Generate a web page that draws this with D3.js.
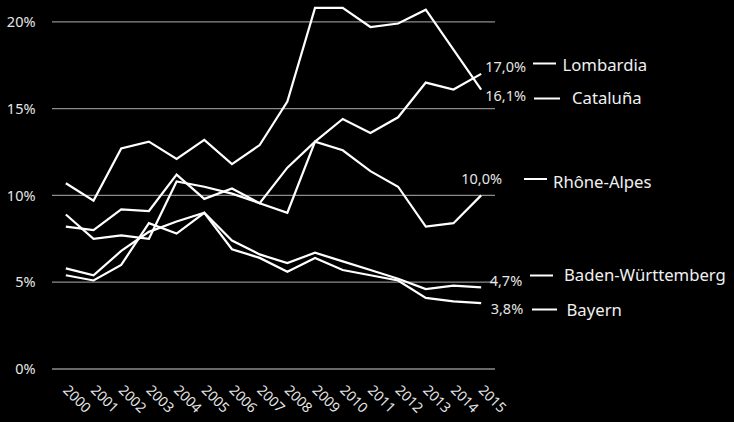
<!DOCTYPE html>
<html>
<head>
<meta charset="utf-8">
<script src="https://cdn.jsdelivr.net/npm/d3@7"></script>
<style>
  html, body { margin: 0; padding: 0; background: #000; }
  svg { display: block; }
</style>
</head>
<body>
<svg id="chart" width="734" height="422"></svg>
<script>
const years = ["2000","2001","2002","2003","2004","2005","2006","2007","2008","2009","2010","2011","2012","2013","2014","2015"];
const yTicks = [0, 5, 10, 15, 20];

const lombardia = [8.9, 7.5, 7.7, 7.5, 10.8, 10.5, 10.1, 9.55, 11.6, 13.1, 14.4, 13.6, 14.5, 16.5, 16.1, 17.0];
const cataluna  = [10.7, 9.7, 12.7, 13.1, 12.1, 13.2, 11.8, 12.9, 15.4, 20.8, 20.8, 19.7, 19.9, 20.7, 18.4, 16.1];
const rhoneAlpes = [8.2, 8.0, 9.2, 9.1, 11.2, 9.8, 10.4, 9.55, 9.0, 13.1, 12.6, 11.4, 10.5, 8.2, 8.4, 10.0];
const badenWurttemberg = [5.8, 5.4, 6.8, 7.9, 8.5, 9.0, 7.4, 6.6, 6.1, 6.7, 6.2, 5.7, 5.2, 4.6, 4.8, 4.7];
const bayern = [5.4, 5.1, 6.0, 8.4, 7.8, 9.0, 6.9, 6.4, 5.6, 6.4, 5.7, 5.4, 5.1, 4.1, 3.9, 3.8];

const seriesNames = ["Lombardia", "Cataluña", "Rhône-Alpes", "Baden-Württemberg", "Bayern"];
const seriesValues = [lombardia, cataluna, rhoneAlpes, badenWurttemberg, bayern];

// label layout (offsets only, not data)
const labelLayout = [
  { vdx: 4,   vdy: -1.5, dashX1: 533, dashX2: 556, dashY: 63.5, nameX: 562.5, nameY: 71 },
  { vdx: 4,   vdy: 11,   dashX1: 534, dashX2: 560, dashY: 98.5, nameX: 572,   nameY: 104 },
  { vdx: -20, vdy: -11.5,dashX1: 524, dashX2: 547, dashY: 179,  nameX: 553,   nameY: 187.5 },
  { vdx: 8.5, vdy: -1.5, dashX1: 530, dashX2: 553, dashY: 275.5,nameX: 564,   nameY: 281 },
  { vdx: 9.5, vdy: 10.5, dashX1: 532, dashX2: 557, dashY: 309.5,nameX: 566.5, nameY: 316 }
];

const svg = d3.select("#chart");
const font = "'Noto Sans', 'Open Sans', sans-serif";

const x = d3.scalePoint().domain(years).range([52, 495]).padding(0.5);
const y = d3.scaleLinear().domain([0, 20]).range([369, 21.8]);

// gridlines
svg.append("g").selectAll("line").data(yTicks).join("line")
  .attr("x1", 52).attr("x2", 495)
  .attr("y1", d => y(d)).attr("y2", d => y(d))
  .attr("stroke", "#8c8c8c").attr("stroke-width", 1.3);

// y labels
svg.append("g").selectAll("text").data(yTicks).join("text")
  .attr("x", 35.5).attr("y", d => y(d))
  .attr("dy", "0.36em")
  .attr("text-anchor", "end")
  .attr("fill", "#e6e6e6")
  .attr("font-family", font).attr("font-size", 14.5)
  .text(d => d + "%");

// x labels
svg.append("g").selectAll("text").data(years).join("text")
  .attr("transform", d => `translate(${x(d) - 3.5},${391}) rotate(45)`)
  .attr("text-anchor", "start")
  .attr("fill", "#e6e6e6")
  .attr("font-family", font).attr("font-size", 14)
  .text(d => d);

// lines
const line = d3.line().x((d, i) => x(years[i])).y(d => y(d));
svg.append("g").selectAll("path").data(seriesValues).join("path")
  .attr("d", d => line(d))
  .attr("fill", "none")
  .attr("stroke", "#ffffff")
  .attr("stroke-width", 2.2)
  .attr("stroke-linejoin", "miter");

// end labels
const fmt = v => v.toFixed(1).replace(".", ",") + "%";
const last = years[years.length - 1];
seriesValues.forEach((vals, i) => {
  const v = vals[vals.length - 1];
  const L = labelLayout[i];
  svg.append("text")
    .attr("x", x(last) + L.vdx)
    .attr("y", y(v) + L.vdy)
    .attr("fill", "#e6e6e6")
    .attr("font-family", font).attr("font-size", 14.5)
    .text(fmt(v));
  svg.append("line")
    .attr("x1", L.dashX1).attr("x2", L.dashX2)
    .attr("y1", L.dashY).attr("y2", L.dashY)
    .attr("stroke", "#ffffff").attr("stroke-width", 2);
  svg.append("text")
    .attr("x", L.nameX).attr("y", L.nameY)
    .attr("fill", "#f0f0f0")
    .attr("font-family", font).attr("font-size", 16.7)
    .text(seriesNames[i]);
});
</script>
</body>
</html>
